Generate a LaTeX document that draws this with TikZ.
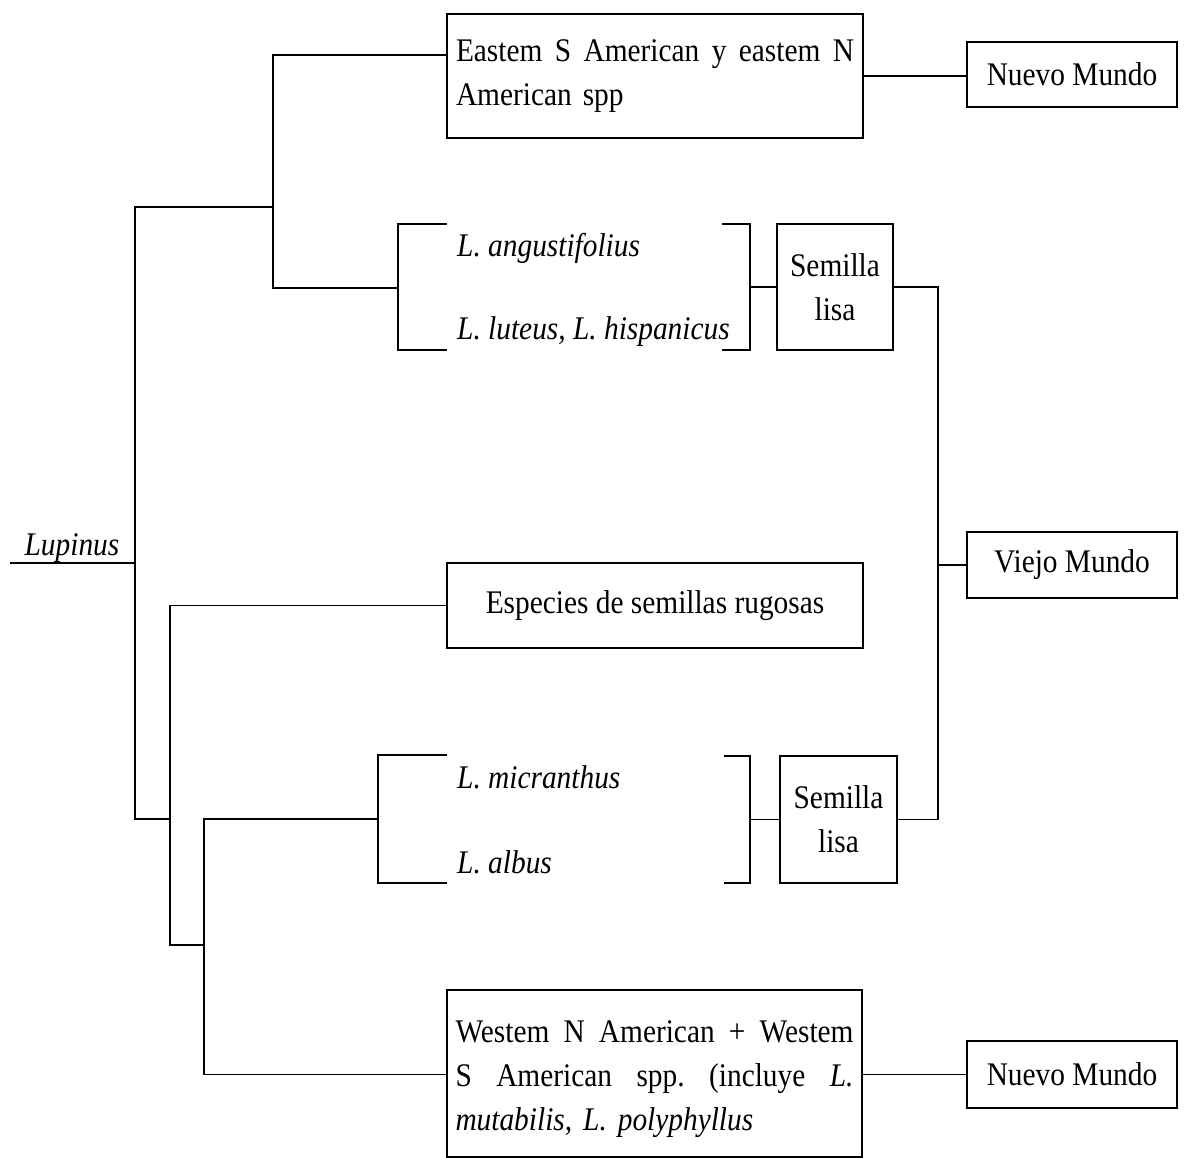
\documentclass[tikz,border=0pt]{standalone}
\usepackage{fontspec}
\setmainfont{Liberation Serif}[FakeStretch=0.89]
\setlength\parindent{0pt}
\newcommand\jline[1]{\leavevmode\hbox to 398pt{#1}}
\tikzset{
  ln/.style={line width=1.5pt},
  bx/.style={draw, line width=1.5pt, inner sep=0pt, align=center, font=\fontsize{33}{44}\selectfont},
  lab/.style={inner sep=0pt, font=\fontsize{33}{44}\selectfont\itshape, anchor=base west},
}
\begin{document}
\begin{tikzpicture}[x=1pt,y=-1pt]
\useasboundingbox (0,0) rectangle (1184,1158);

% boxes
\node[bx, minimum width=416pt, minimum height=124pt, text width=398pt, align=left] (b1) at (655,76)
  {\jline{Eastem\hfill S\hfill American\hfill y\hfill eastem\hfill N}\\American spp};
\node[bx, minimum width=210pt, minimum height=65pt] (nm1) at (1072,74.5) {Nuevo Mundo};
\node[bx, minimum width=116pt, minimum height=126pt] (s1) at (835,287) {Semilla\\lisa};
\node[bx, minimum width=210pt, minimum height=66pt] (vm) at (1072,565) {Viejo Mundo};
\node[bx, minimum width=416pt, minimum height=85pt] (b3) at (655,605.5) {Especies de semillas rugosas};
\node[bx, minimum width=117pt, minimum height=127pt] (s2) at (838.5,819.5) {Semilla\\lisa};
\node[bx, minimum width=415pt, minimum height=167pt, text width=398pt, align=left] (b4) at (654.5,1073.5)
  {\jline{\rule{0pt}{33pt}Westem\hfill N\hfill American\hfill +\hfill Westem}\\
   \jline{S\hfill American\hfill spp.\hfill (incluye\hfill \textit{L.}}\\
   \textit{mutabilis, L. polyphyllus}};
\node[bx, minimum width=210pt, minimum height=67pt] (nm2) at (1072,1074.5) {Nuevo Mundo};

% labels
\node[lab, anchor=base] (lup) at (72,555) {Lupinus};
\node[lab] (t1) at (457,257) {L. angustifolius};
\node[lab] (t2) at (457,340) {L. luteus, L. hispanicus};
\node[lab] (t3) at (457,788) {L. micranthus};
\node[lab] (t4) at (457,873) {L. albus};

% junction coordinates
\coordinate (root) at (10,563);
\coordinate (j0m) at (135,563);
\coordinate (j0t) at (135,207);
\coordinate (j0b) at (135,819);
\coordinate (j1t) at (273,55);
\coordinate (j1m) at (273,207);
\coordinate (j1b) at (273,288);
\coordinate (lb1t) at (398,224);
\coordinate (lb1m) at (398,288);
\coordinate (lb1b) at (398,350);
\coordinate (lb1te) at (447,224);
\coordinate (lb1be) at (447,350);
\coordinate (rb1ts) at (722,224);
\coordinate (rb1bs) at (722,350);
\coordinate (rb1t) at (750,224);
\coordinate (rb1m) at (750,287);
\coordinate (rb1b) at (750,350);
\coordinate (j3t) at (938,287);
\coordinate (j3m) at (938,565);
\coordinate (j3b) at (938,819.5);
\coordinate (j4m) at (170,819);
\coordinate (j4b) at (170,945);
\coordinate (j5t) at (204,819);
\coordinate (j5m) at (204,945);
\coordinate (j5b) at (204,1074.5);
\coordinate (lb2t) at (378,755);
\coordinate (lb2m) at (378,819);
\coordinate (lb2b) at (378,883);
\coordinate (lb2te) at (447,755);
\coordinate (lb2be) at (447,883);
\coordinate (rb2ts) at (724,756);
\coordinate (rb2bs) at (724,883);
\coordinate (rb2t) at (750,756);
\coordinate (rb2m) at (750,819.5);
\coordinate (rb2b) at (750,883);

% tree
\draw[ln] (root) -- (j0m);
\draw[ln] (j1m) -- (j0t) -- (j0b) -- (j4m);
\draw[ln] (j1t -| b1.west) -- (j1t) -- (j1b) -- (lb1m);
\draw[ln] (lb1te) -- (lb1t) -- (lb1b) -- (lb1be);
\draw[ln] (rb1ts) -- (rb1t) -- (rb1b) -- (rb1bs);
\draw[ln] (rb1m) -- (s1.west);
\draw[ln] (b1.east) -- (b1.east -| nm1.west);
\draw[ln] (s1.east) -- (j3t) -- (j3b) -- (s2.east);
\draw[ln] (j3m) -- (vm.west);
\draw[ln] (b3.west) -- (b3.west -| j4m) -- (j4b) -- (j5m);
\draw[ln] (lb2m) -- (j5t) -- (j5b) -- (b4.west |- j5b);
\draw[ln] (lb2te) -- (lb2t) -- (lb2b) -- (lb2be);
\draw[ln] (rb2ts) -- (rb2t) -- (rb2b) -- (rb2bs);
\draw[ln] (rb2m) -- (s2.west);
\draw[ln] (b4.east |- nm2.west) -- (nm2.west);
\end{tikzpicture}
\end{document}
